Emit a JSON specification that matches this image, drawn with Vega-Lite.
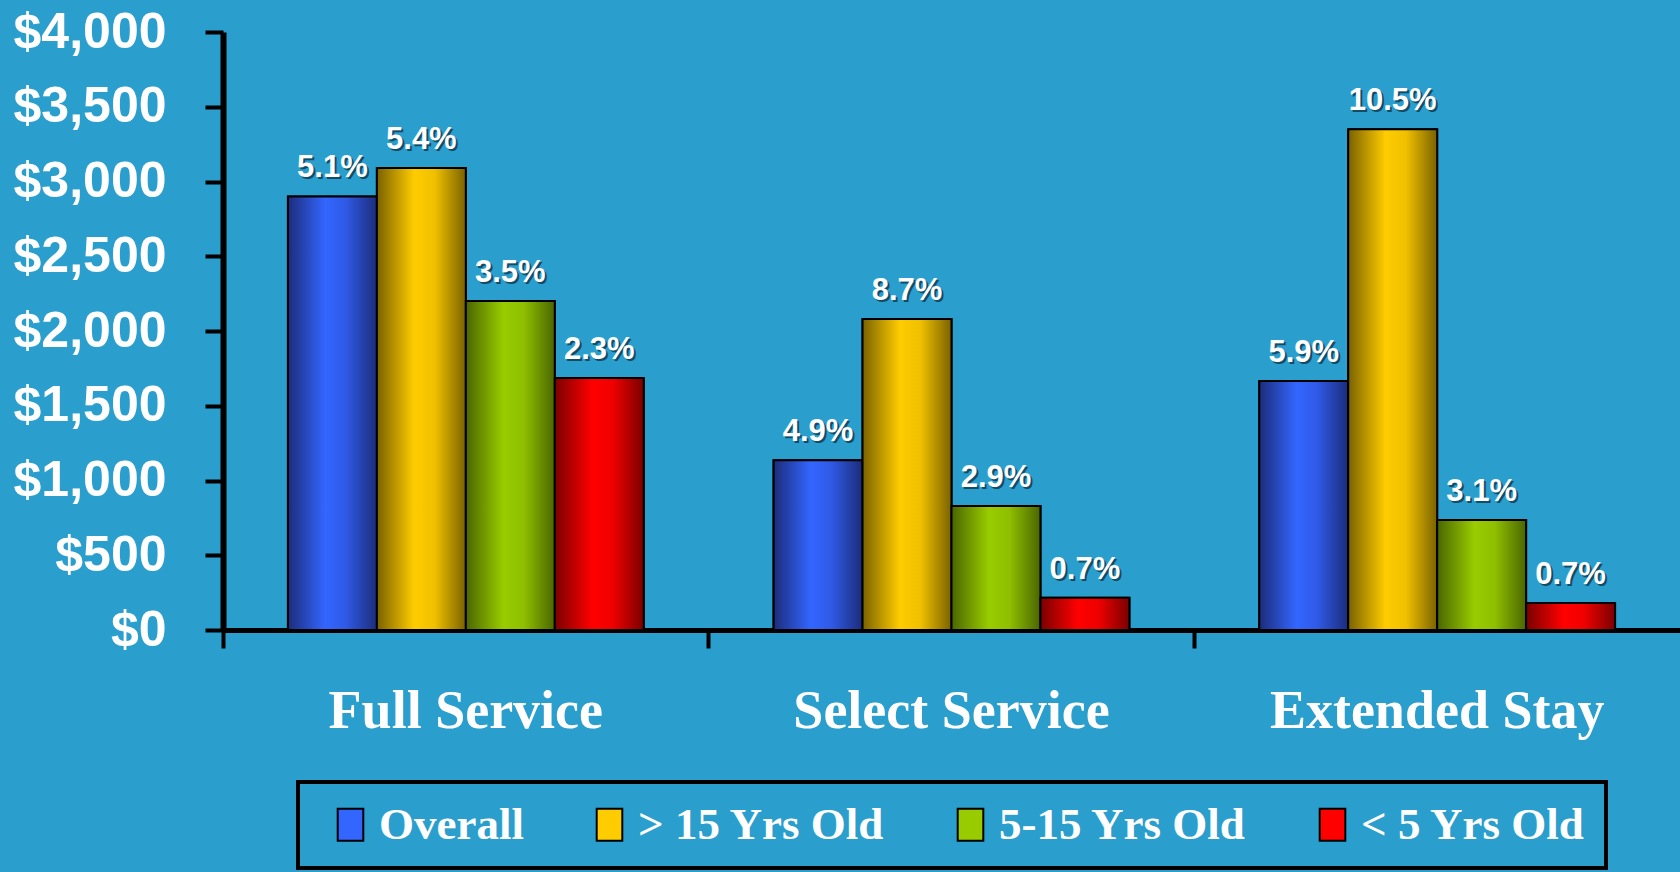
{
  "$schema": "https://vega.github.io/schema/vega-lite/v6.json",
  "width": 1457,
  "height": 598,
  "autosize": "none",
  "padding": {"left": 223, "top": 32, "right": 0, "bottom": 242},
  "background": "#2a9ecd",
  "config": {
    "view": {"stroke": null},
    "axis": {"zindex": 1},
    "legend": {"strokeWidth": 4}
  },
  "data": {
    "values": [
      {"segment": "Full Service", "series": "Overall", "value": 2900, "label": "5.1%"},
      {"segment": "Full Service", "series": "> 15 Yrs Old", "value": 3090, "label": "5.4%"},
      {"segment": "Full Service", "series": "5-15 Yrs Old", "value": 2200, "label": "3.5%"},
      {"segment": "Full Service", "series": "< 5 Yrs Old", "value": 1685, "label": "2.3%"},
      {"segment": "Select Service", "series": "Overall", "value": 1135, "label": "4.9%"},
      {"segment": "Select Service", "series": "> 15 Yrs Old", "value": 2080, "label": "8.7%"},
      {"segment": "Select Service", "series": "5-15 Yrs Old", "value": 830, "label": "2.9%"},
      {"segment": "Select Service", "series": "< 5 Yrs Old", "value": 215, "label": "0.7%"},
      {"segment": "Extended Stay", "series": "Overall", "value": 1665, "label": "5.9%"},
      {"segment": "Extended Stay", "series": "> 15 Yrs Old", "value": 3350, "label": "10.5%"},
      {"segment": "Extended Stay", "series": "5-15 Yrs Old", "value": 735, "label": "3.1%"},
      {"segment": "Extended Stay", "series": "< 5 Yrs Old", "value": 180, "label": "0.7%"}
    ]
  },
  "encoding": {
    "x": {
      "field": "segment", "type": "nominal",
      "sort": ["Full Service", "Select Service", "Extended Stay"],
      "scale": {"paddingInner": 0, "paddingOuter": 0},
      "axis": {
        "title": null, "labelAngle": 0, "bandPosition": 0,
        "domainColor": "#000000", "domainWidth": 5,
        "tickColor": "#000000", "tickWidth": 4, "tickSize": 18,
        "labelFont": "Liberation Serif", "labelFontWeight": "bold", "labelFontSize": 54,
        "labelColor": "#ffffff", "labelPadding": 36, "labelLimit": 600
      }
    },
    "xOffset": {
      "field": "series", "type": "nominal",
      "sort": ["Overall", "> 15 Yrs Old", "5-15 Yrs Old", "< 5 Yrs Old"],
      "scale": {"paddingInner": 0, "paddingOuter": 0.73}
    },
    "y": {
      "field": "value", "type": "quantitative",
      "scale": {"domain": [0, 4000], "nice": false},
      "axis": {
        "title": null, "values": [0, 500, 1000, 1500, 2000, 2500, 3000, 3500, 4000],
        "format": "$,.0f", "grid": false,
        "domainColor": "#000000", "domainWidth": 6,
        "tickColor": "#000000", "tickWidth": 4, "tickSize": 18,
        "labelFont": "Liberation Sans", "labelFontWeight": "bold", "labelFontSize": 50,
        "labelColor": "#ffffff", "labelPadding": 39
      }
    }
  },
  "layer": [
    {
      "mark": {"type": "bar", "stroke": "#000000", "strokeWidth": 2},
      "encoding": {
        "color": {
          "field": "series", "type": "nominal",
          "sort": ["Overall", "> 15 Yrs Old", "5-15 Yrs Old", "< 5 Yrs Old"],
          "scale": {
            "domain": ["Overall", "> 15 Yrs Old", "5-15 Yrs Old", "< 5 Yrs Old"],
            "range": ["#3366ff", "#ffcc00", "#99cc00", "#ff0000"]
          },
          "legend": {
            "title": null, "orient": "none", "legendX": 75, "legendY": 750,
            "direction": "horizontal",
            "symbolType": "M-0.8,-1H0.8V1H-0.8Z", "symbolSize": 1024,
            "symbolStrokeColor": "#000000", "symbolStrokeWidth": 2,
            "symbolOffset": 10, "labelOffset": 6, "columnPadding": 53,
            "labelFont": "Liberation Serif", "labelFontWeight": "bold", "labelFontSize": 45,
            "labelColor": "#ffffff", "labelLimit": 400,
            "padding": 20, "strokeColor": "#000000"
          }
        }
      }
    },
    {
      "transform": [{"filter": "datum.series == 'Overall'"}],
      "mark": {
        "type": "bar", "stroke": "#000000", "strokeWidth": 2,
        "color": {"gradient": "linear", "x1": 0, "y1": 0, "x2": 1, "y2": 0,
          "stops": [{"offset": 0, "color": "#1c2c7a"}, {"offset": 0.42, "color": "#3366ff"}, {"offset": 0.65, "color": "#2f5ae6"}, {"offset": 1, "color": "#1c2c7a"}]}
      }
    },
    {
      "transform": [{"filter": "datum.series == '> 15 Yrs Old'"}],
      "mark": {
        "type": "bar", "stroke": "#000000", "strokeWidth": 2,
        "color": {"gradient": "linear", "x1": 0, "y1": 0, "x2": 1, "y2": 0,
          "stops": [{"offset": 0, "color": "#7a6200"}, {"offset": 0.42, "color": "#ffcc00"}, {"offset": 0.65, "color": "#f0c000"}, {"offset": 1, "color": "#7a6200"}]}
      }
    },
    {
      "transform": [{"filter": "datum.series == '5-15 Yrs Old'"}],
      "mark": {
        "type": "bar", "stroke": "#000000", "strokeWidth": 2,
        "color": {"gradient": "linear", "x1": 0, "y1": 0, "x2": 1, "y2": 0,
          "stops": [{"offset": 0, "color": "#4a6600"}, {"offset": 0.42, "color": "#99cc00"}, {"offset": 0.65, "color": "#8fbf00"}, {"offset": 1, "color": "#4a6600"}]}
      }
    },
    {
      "transform": [{"filter": "datum.series == '< 5 Yrs Old'"}],
      "mark": {
        "type": "bar", "stroke": "#000000", "strokeWidth": 2,
        "color": {"gradient": "linear", "x1": 0, "y1": 0, "x2": 1, "y2": 0,
          "stops": [{"offset": 0, "color": "#7a0000"}, {"offset": 0.42, "color": "#ff0000"}, {"offset": 0.65, "color": "#f00000"}, {"offset": 1, "color": "#7a0000"}]}
      }
    },
    {
      "mark": {"type": "text", "baseline": "bottom", "dx": 2, "dy": -10, "color": "#0a2a3a", "opacity": 0.7,
        "font": "Liberation Sans", "fontWeight": "bold", "fontSize": 31},
      "encoding": {"text": {"field": "label"}}
    },
    {
      "mark": {"type": "text", "baseline": "bottom", "dy": -12, "color": "#ffffff",
        "font": "Liberation Sans", "fontWeight": "bold", "fontSize": 31},
      "encoding": {"text": {"field": "label"}}
    }
  ]
}
